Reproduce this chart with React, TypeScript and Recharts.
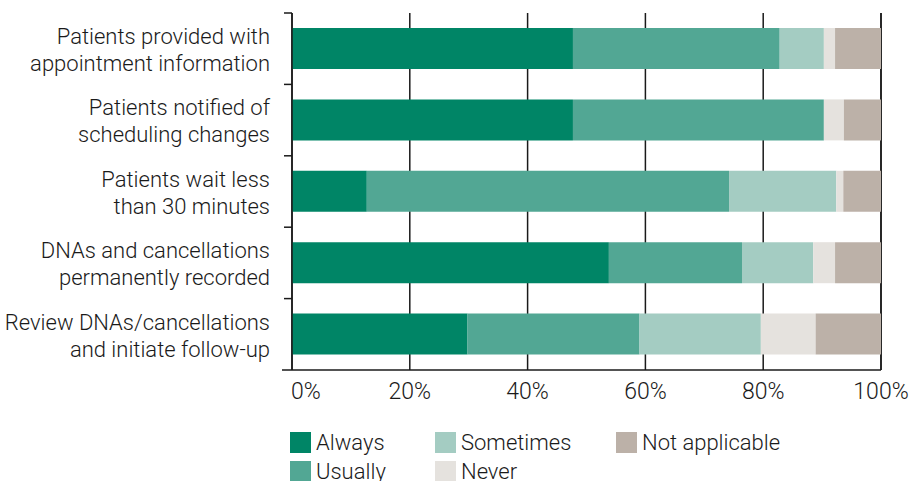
import React from 'react';
import { BarChart, Bar, XAxis, YAxis, CartesianGrid, Legend } from 'recharts';

const categories = [
  'Patients provided with\nappointment information',
  'Patients notified of\nscheduling changes',
  'Patients wait less\nthan 30 minutes',
  'DNAs and cancellations\npermanently recorded',
  'Review DNAs/cancellations\nand initiate follow-up',
];
const always = [47.7, 47.7, 12.7, 53.8, 29.8];
const usually = [35.1, 42.6, 61.5, 22.6, 29.2];
const sometimes = [7.5, 0, 18.2, 12.1, 20.6];
const never = [1.9, 3.4, 1.2, 3.7, 9.3];
const notApplicable = [7.8, 6.3, 6.4, 7.8, 11.1];
const xTicks = [0, 20, 40, 60, 80, 100];

const seriesNames = ['Always', 'Usually', 'Sometimes', 'Never', 'Not applicable'];
const seriesKeys = ['always', 'usually', 'sometimes', 'never', 'na'];
const colors = ['#008566', '#52A794', '#A4CCC2', '#E5E2DE', '#BCB1A8'];

const data = categories.map((c, i) => ({
  label: c,
  always: always[i],
  usually: usually[i],
  sometimes: sometimes[i],
  never: never[i],
  na: notApplicable[i],
}));

const FONT = 'Roboto, sans-serif';
const WEIGHT = 300;
const INK = '#1a1a1a';
const BAND = 71.4;

const YTick = (props: any) => {
  const { x, y, payload, index } = props;
  const lines = String(payload.value).split('\n');
  const half = BAND / 2;
  const tx = x - 22;
  return (
    <g>
      <text x={tx} y={y} textAnchor="end" fontSize={22} fontWeight={WEIGHT} fill={INK} fontFamily={FONT}>
        {lines.map((l: string, i: number) => (
          <tspan key={i} x={tx} dy={i === 0 ? -4.7 : 27}>
            {l}
          </tspan>
        ))}
      </text>
      <line x1={x - 8} x2={x} y1={y - half} y2={y - half} stroke={INK} strokeWidth={1.5} />
      {index === categories.length - 1 && (
        <line x1={x - 10} x2={x} y1={y + half} y2={y + half} stroke={INK} strokeWidth={1.5} />
      )}
    </g>
  );
};

const XTick = (props: any) => {
  const { x, y, payload } = props;
  const v = payload.value;
  return (
    <text
      x={v === 0 ? x - 1 : x}
      y={y + 29}
      textAnchor={v === 0 ? 'start' : 'middle'}
      fontSize={23}
      fontWeight={WEIGHT}
      fill={INK}
      fontFamily={FONT}
    >
      {`${v}%`}
    </text>
  );
};

const LegendContent = () => {
  const order = [0, 1, 2, 3, 4];
  return (
    <div
      style={{
        paddingLeft: 290,
        display: 'grid',
        gridTemplateColumns: '145px 181px auto',
        gridTemplateRows: '29px 29px',
        gridAutoFlow: 'column',
        fontFamily: FONT,
        fontWeight: WEIGHT,
        fontSize: 22,
        color: INK,
      }}
    >
      {order.map((i) => (
        <div key={i} style={{ display: 'flex', alignItems: 'center', height: 29 }}>
          <span style={{ display: 'inline-block', width: 21, height: 21, background: colors[i], marginRight: 5 }} />
          <span>{seriesNames[i]}</span>
        </div>
      ))}
    </div>
  );
};

export default function App() {
  return (
    <div style={{ position: 'absolute', left: 0, top: 0, width: 913, height: 481, background: '#fff' }}>
      <BarChart
        width={913}
        height={481}
        data={data}
        layout="vertical"
        margin={{ top: 13, right: 32, bottom: 0, left: 0 }}
        barSize={41}
      >
        <CartesianGrid horizontal={false} vertical stroke={INK} strokeWidth={1.5} />
        <XAxis
          type="number"
          domain={[0, 100]}
          ticks={xTicks}
          tick={<XTick />}
          tickLine={false}
          tickSize={0}
          tickMargin={0}
          height={56}
          axisLine={{ stroke: INK, strokeWidth: 1.5 }}
          interval={0}
        />
        <XAxis
          xAxisId="top"
          orientation="top"
          type="number"
          domain={[0, 100]}
          tick={false}
          tickLine={false}
          height={0}
          axisLine={{ stroke: INK, strokeWidth: 1.5 }}
        />
        <YAxis
          type="category"
          dataKey="label"
          width={292}
          tick={<YTick />}
          tickLine={false}
          tickSize={0}
          tickMargin={0}
          interval={0}
          axisLine={{ stroke: INK, strokeWidth: 1.5 }}
        />
        <Legend
          verticalAlign="bottom"
          align="left"
          height={55}
          content={<LegendContent />}
          wrapperStyle={{ left: 0, top: 428, bottom: 'auto', width: 913 }}
        />
        {seriesKeys.map((k, i) => (
          <Bar key={k} dataKey={k} name={seriesNames[i]} stackId="a" fill={colors[i]} isAnimationActive={false} />
        ))}
      </BarChart>
    </div>
  );
}
